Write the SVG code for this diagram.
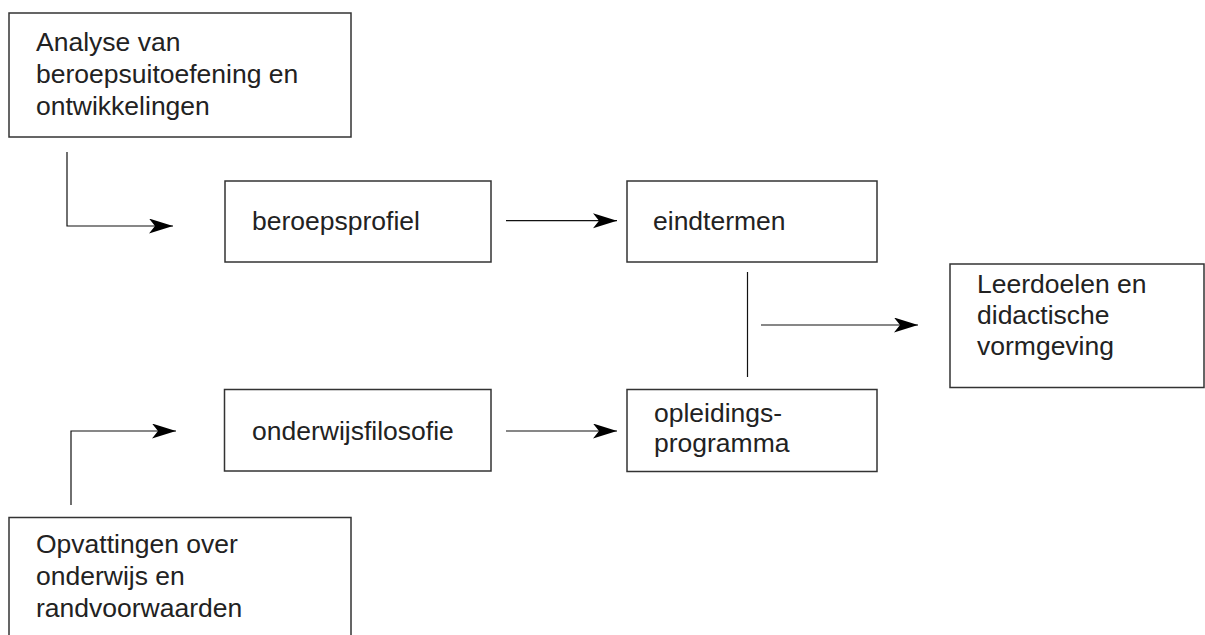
<svg xmlns="http://www.w3.org/2000/svg" width="1205" height="635" viewBox="0 0 1205 635">
<style>
.box{fill:#fff;stroke:#333;stroke-width:1.5}
.lbl{font-family:"Liberation Sans",Arial,sans-serif;font-size:26.5px;fill:#222}
.con{fill:none;stroke:#111;stroke-width:1.2}
</style>
<defs>
<marker id="ah" markerWidth="26" markerHeight="16" refX="24" refY="7.5" orient="auto" markerUnits="userSpaceOnUse">
<path d="M0,0 L24,7.5 L0,15 L6,7.5 Z" fill="#000"/>
</marker>
</defs>
<rect width="1205" height="635" fill="#fff"/>
<g id="analyse">
<rect class="box" x="9" y="13" width="342" height="124"/>
<text class="lbl" x="36" y="51">Analyse van</text>
<text class="lbl" x="36" y="83">beroepsuitoefening en</text>
<text class="lbl" x="36" y="115">ontwikkelingen</text>
</g>
<g id="beroepsprofiel">
<rect class="box" x="225" y="181" width="266" height="81"/>
<text class="lbl" x="252" y="229.5">beroepsprofiel</text>
</g>
<g id="eindtermen">
<rect class="box" x="627" y="181" width="250" height="81"/>
<text class="lbl" x="653" y="230">eindtermen</text>
</g>
<g id="leerdoelen">
<rect class="box" x="950" y="264" width="254" height="123.5"/>
<text class="lbl" x="977" y="293">Leerdoelen en</text>
<text class="lbl" x="977" y="324">didactische</text>
<text class="lbl" x="977" y="355">vormgeving</text>
</g>
<g id="onderwijsfilosofie">
<rect class="box" x="224.5" y="389.5" width="266.5" height="81.5"/>
<text class="lbl" x="252" y="439.5">onderwijsfilosofie</text>
</g>
<g id="opleidingsprogramma">
<rect class="box" x="627" y="389.5" width="250" height="82"/>
<text class="lbl" x="654" y="421.5">opleidings-</text>
<text class="lbl" x="654" y="451.5">programma</text>
</g>
<g id="opvattingen">
<rect class="box" x="9" y="517.5" width="342" height="130"/>
<text class="lbl" x="36" y="553">Opvattingen over</text>
<text class="lbl" x="36" y="585">onderwijs en</text>
<text class="lbl" x="36" y="617">randvoorwaarden</text>
</g>
<g id="connectors">
<path class="con" d="M67,152 L67,226 L173,226" marker-end="url(#ah)"/>
<path class="con" d="M506,220.7 L617,220.7" marker-end="url(#ah)"/>
<path class="con" d="M747.5,272 L747.5,377"/>
<path class="con" d="M761,325 L918,325" marker-end="url(#ah)"/>
<path class="con" d="M71,505 L71,431 L176,431" marker-end="url(#ah)"/>
<path class="con" d="M506,431 L617,431" marker-end="url(#ah)"/>
</g>
</svg>
